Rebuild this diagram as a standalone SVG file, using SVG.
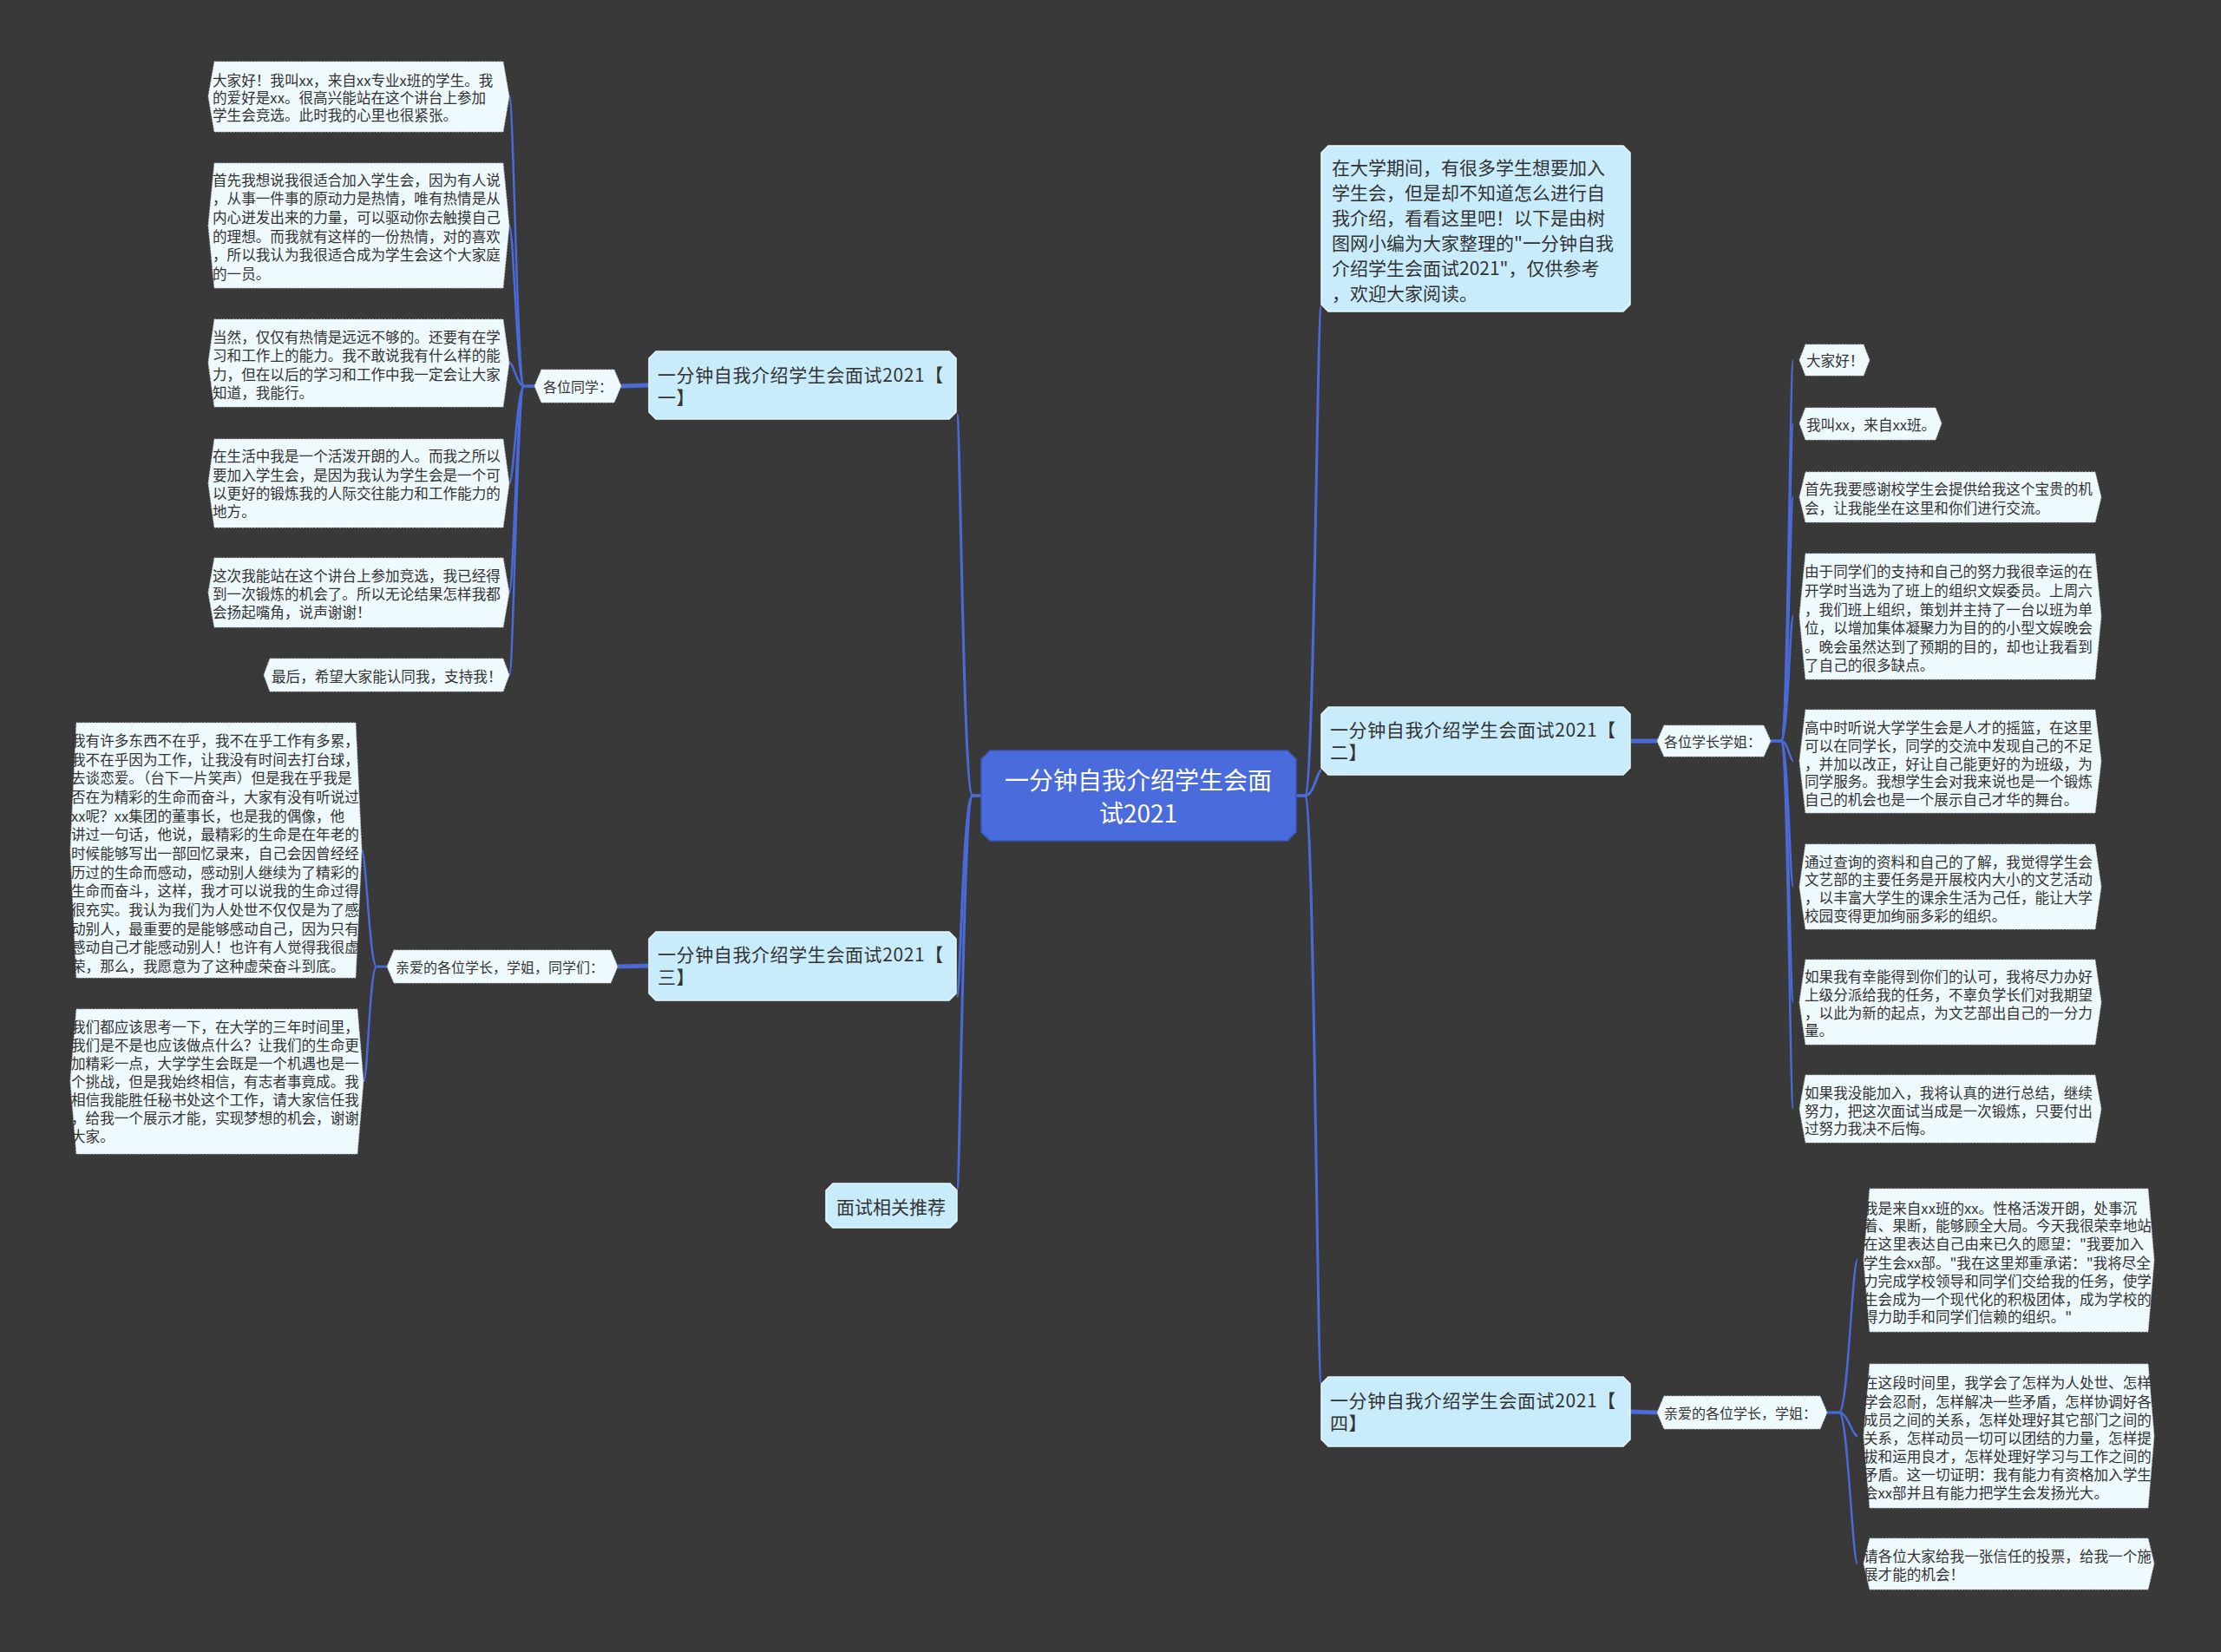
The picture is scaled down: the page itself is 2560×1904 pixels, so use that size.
<svg xmlns="http://www.w3.org/2000/svg" width="2560" height="1904" viewBox="0 0 2560 1904">
<style>
text{font-family:"Noto Sans CJK SC","Liberation Sans",sans-serif;dominant-baseline:central}
.bg{fill:#3a393a}
.leaf{fill:#effaff;stroke:#bfc6c9;stroke-width:1;stroke-dasharray:2 1.5}
.lt{font-size:16.6px;fill:#333}
.sub{fill:#effaff;stroke:#bfc6c9;stroke-width:1;stroke-dasharray:2 1.5}
.st{font-size:16px;fill:#333}
.br{fill:#c9ecfc;stroke:#e6f7ff;stroke-width:1.5}
.bt{font-size:21px;fill:#333;letter-spacing:0.6px}
.it{font-size:21px;fill:#333}
.ct{font-size:28px;fill:#fff;text-anchor:middle}
.root{fill:#4a6bdc;stroke:#3a57b8;stroke-width:1.5}
.c1{fill:none;stroke:#4a6ad8;stroke-width:3}
.c2{fill:none;stroke:#4a6ad8;stroke-width:5}
.c3{fill:none;stroke:#4a6ad8;stroke-width:2.5}
</style>
<rect class="bg" x="0" y="0" width="2560" height="1904"/>

<g id="connectors">
<path class="c1" d="M1131,917 L1121,917 C1110,917 1107,478 1103,478"/>
<path class="c1" d="M1131,917 L1121,917 C1110,917 1107,1148 1103,1148"/>
<path class="c1" d="M1131,917 L1121,917 C1110,917 1107,1370 1103,1370"/>
<path class="c1" d="M1494,917 L1504,917 C1515,917 1518,354 1523,354"/>
<path class="c1" d="M1494,917 L1504,917 C1515,917 1518,888 1523,888"/>
<path class="c1" d="M1494,917 L1504,917 C1515,917 1518,1594 1523,1594"/>
<path class="c2" d="M748,444 L716,445"/>
<path class="c2" d="M1879,854 L1910,854"/>
<path class="c2" d="M748,1113 L712,1114"/>
<path class="c2" d="M1879,1627 L1910,1628"/>
<path class="c3" d="M616,445 L604,445 C596,445 592,111 587,111"/>
<path class="c3" d="M616,445 L604,445 C596,445 592,260 587,260"/>
<path class="c3" d="M616,445 L604,445 C596,445 592,418 587,418"/>
<path class="c3" d="M616,445 L604,445 C596,445 592,557 587,557"/>
<path class="c3" d="M616,445 L604,445 C596,445 592,683 587,683"/>
<path class="c3" d="M616,445 L604,445 C596,445 592,778 587,778"/>
<path class="c3" d="M446,1114 L434,1114 C426,1114 422,980 417,980"/>
<path class="c3" d="M446,1114 L434,1114 C426,1114 424,1246 419,1246"/>
<path class="c3" d="M2041,854 L2053,854 C2061,854 2063,415 2067,415"/>
<path class="c3" d="M2041,854 L2053,854 C2061,854 2063,488 2067,488"/>
<path class="c3" d="M2041,854 L2053,854 C2061,854 2063,573 2067,573"/>
<path class="c3" d="M2041,854 L2053,854 C2061,854 2063,710 2067,710"/>
<path class="c3" d="M2041,854 L2053,854 C2061,854 2063,877 2067,877"/>
<path class="c3" d="M2041,854 L2053,854 C2061,854 2063,1022 2067,1022"/>
<path class="c3" d="M2041,854 L2053,854 C2061,854 2063,1155 2067,1155"/>
<path class="c3" d="M2041,854 L2053,854 C2061,854 2063,1278 2067,1278"/>
<path class="c3" d="M2106,1628 L2120,1628 C2130,1628 2135,1452 2141,1452"/>
<path class="c3" d="M2106,1628 L2120,1628 C2130,1628 2135,1655 2141,1655"/>
<path class="c3" d="M2106,1628 L2120,1628 C2130,1628 2135,1802 2141,1802"/>
</g>

<g id="root">
<polygon class="root" points="1141,865 1484,865 1494,875 1494,959 1484,969 1141,969 1131,959 1131,875"/>
<text class="ct" x="1312" y="898">一分钟自我介绍学生会面</text>
<text class="ct" x="1312" y="936">试2021</text>
</g>

<g id="intro">
<polygon class="br" points="1531,168 1871,168 1879,176 1879,351 1871,359 1531,359 1523,351 1523,176"/>
<text class="it" x="1535" y="192">在大学期间，有很多学生想要加入</text>
<text class="it" x="1535" y="221">学生会，但是却不知道怎么进行自</text>
<text class="it" x="1535" y="250">我介绍，看看这里吧！以下是由树</text>
<text class="it" x="1535" y="279">图网小编为大家整理的"一分钟自我</text>
<text class="it" x="1535" y="308">介绍学生会面试2021"，仅供参考</text>
<text class="it" x="1535" y="337">，欢迎大家阅读。</text>
</g>

<g id="branch1">
<polygon class="br" points="756,405 1094,405 1102,413 1102,475 1094,483 756,483 748,475 748,413"/>
<text class="bt" x="758" y="431">一分钟自我介绍学生会面试2021【</text>
<text class="bt" x="758" y="457">一】</text>
</g>
<g id="branch2">
<polygon class="br" points="1531,815 1871,815 1879,823 1879,885 1871,893 1531,893 1523,885 1523,823"/>
<text class="bt" x="1533" y="840">一分钟自我介绍学生会面试2021【</text>
<text class="bt" x="1533" y="866">二】</text>
</g>
<g id="branch3">
<polygon class="br" points="756,1074 1094,1074 1102,1082 1102,1145 1094,1153 756,1153 748,1145 748,1082"/>
<text class="bt" x="758" y="1099">一分钟自我介绍学生会面试2021【</text>
<text class="bt" x="758" y="1125">三】</text>
</g>
<g id="branch4">
<polygon class="br" points="1531,1587 1871,1587 1879,1595 1879,1659 1871,1667 1531,1667 1523,1659 1523,1595"/>
<text class="bt" x="1533" y="1613">一分钟自我介绍学生会面试2021【</text>
<text class="bt" x="1533" y="1639">四】</text>
</g>
<g id="related">
<polygon class="br" points="960,1364 1095,1364 1103,1372 1103,1407 1095,1415 960,1415 952,1407 952,1372"/>
<text class="it" style="text-anchor:middle" x="1027" y="1390">面试相关推荐</text>
</g>

<g id="sub1">
<polygon class="sub" points="624,426 708,426 716,445 708,464 624,464 616,445"/>
<text class="st" x="626" y="445">各位同学：</text>
</g>
<g id="sub2">
<polygon class="sub" points="1918,836 2033,836 2041,854 2033,872 1918,872 1910,854"/>
<text class="st" x="1918" y="854">各位学长学姐：</text>
</g>
<g id="sub3">
<polygon class="sub" points="454,1095 704,1095 712,1114 704,1133 454,1133 446,1114"/>
<text class="st" x="456" y="1114">亲爱的各位学长，学姐，同学们：</text>
</g>
<g id="sub4">
<polygon class="sub" points="1918,1609 2098,1609 2106,1628 2098,1647 1918,1647 1910,1628"/>
<text class="st" x="1918" y="1628">亲爱的各位学长，学姐：</text>
</g>

<g id="leaf1-1">
<polygon class="leaf" points="247,71 580,71 587,111 580,152 247,152 240,111"/>
<text class="lt" x="245" y="92">大家好！我叫xx，来自xx专业x班的学生。我</text>
<text class="lt" x="245" y="112">的爱好是xx。很高兴能站在这个讲台上参加</text>
<text class="lt" x="245" y="132">学生会竞选。此时我的心里也很紧张。</text>
</g>
<g id="leaf1-2">
<polygon class="leaf" points="247,188 580,188 587,260 580,332 247,332 240,260"/>
<text class="lt" x="245" y="207">首先我想说我很适合加入学生会，因为有人说</text>
<text class="lt" x="245" y="228">，从事一件事的原动力是热情，唯有热情是从</text>
<text class="lt" x="245" y="250">内心迸发出来的力量，可以驱动你去触摸自己</text>
<text class="lt" x="245" y="272">的理想。而我就有这样的一份热情，对的喜欢</text>
<text class="lt" x="245" y="293">，所以我认为我很适合成为学生会这个大家庭</text>
<text class="lt" x="245" y="315">的一员。</text>
</g>
<g id="leaf1-3">
<polygon class="leaf" points="247,368 580,368 587,418 580,469 247,469 240,418"/>
<text class="lt" x="245" y="388">当然，仅仅有热情是远远不够的。还要有在学</text>
<text class="lt" x="245" y="409">习和工作上的能力。我不敢说我有什么样的能</text>
<text class="lt" x="245" y="431">力，但在以后的学习和工作中我一定会让大家</text>
<text class="lt" x="245" y="452">知道，我能行。</text>
</g>
<g id="leaf1-4">
<polygon class="leaf" points="247,506 580,506 587,557 580,608 247,608 240,557"/>
<text class="lt" x="245" y="525">在生活中我是一个活泼开朗的人。而我之所以</text>
<text class="lt" x="245" y="547">要加入学生会，是因为我认为学生会是一个可</text>
<text class="lt" x="245" y="568">以更好的锻炼我的人际交往能力和工作能力的</text>
<text class="lt" x="245" y="589">地方。</text>
</g>
<g id="leaf1-5">
<polygon class="leaf" points="247,643 580,643 587,683 580,723 247,723 240,683"/>
<text class="lt" x="245" y="663">这次我能站在这个讲台上参加竞选，我已经得</text>
<text class="lt" x="245" y="684">到一次锻炼的机会了。所以无论结果怎样我都</text>
<text class="lt" x="245" y="705">会扬起嘴角，说声谢谢！</text>
</g>
<g id="leaf1-6">
<polygon class="leaf" points="311,759 580,759 587,778 580,797 311,797 304,778"/>
<text class="lt" x="313" y="779">最后，希望大家能认同我，支持我！</text>
</g>

<g id="leaf3-1">
<polygon class="leaf" points="88,833 410,833 417,980 410,1127 88,1127 81,980"/>
<text class="lt" x="82" y="853">我有许多东西不在乎，我不在乎工作有多累，</text>
<text class="lt" x="82" y="875">我不在乎因为工作，让我没有时间去打台球，</text>
<text class="lt" x="82" y="896">去谈恋爱。（台下一片笑声）但是我在乎我是</text>
<text class="lt" x="82" y="918">否在为精彩的生命而奋斗，大家有没有听说过</text>
<text class="lt" x="82" y="940">xx呢？xx集团的董事长，也是我的偶像，他</text>
<text class="lt" x="82" y="961">讲过一句话，他说，最精彩的生命是在年老的</text>
<text class="lt" x="82" y="983">时候能够写出一部回忆录来，自己会因曾经经</text>
<text class="lt" x="82" y="1005">历过的生命而感动，感动别人继续为了精彩的</text>
<text class="lt" x="82" y="1026">生命而奋斗，这样，我才可以说我的生命过得</text>
<text class="lt" x="82" y="1048">很充实。我认为我们为人处世不仅仅是为了感</text>
<text class="lt" x="82" y="1070">动别人，最重要的是能够感动自己，因为只有</text>
<text class="lt" x="82" y="1091">感动自己才能感动别人！也许有人觉得我很虚</text>
<text class="lt" x="82" y="1113">荣，那么，我愿意为了这种虚荣奋斗到底。</text>
</g>
<g id="leaf3-2">
<polygon class="leaf" points="88,1163 412,1163 419,1246 412,1330 88,1330 81,1246"/>
<text class="lt" x="82" y="1183">我们都应该思考一下，在大学的三年时间里，</text>
<text class="lt" x="82" y="1204">我们是不是也应该做点什么？让我们的生命更</text>
<text class="lt" x="82" y="1225">加精彩一点，大学学生会既是一个机遇也是一</text>
<text class="lt" x="82" y="1246">个挑战，但是我始终相信，有志者事竟成。我</text>
<text class="lt" x="82" y="1267">相信我能胜任秘书处这个工作，请大家信任我</text>
<text class="lt" x="82" y="1288">，给我一个展示才能，实现梦想的机会，谢谢</text>
<text class="lt" x="82" y="1309">大家。</text>
</g>

<g id="leaf2-1">
<polygon class="leaf" points="2081,397 2148,397 2155,415 2148,433 2081,433 2074,415"/>
<text class="lt" x="2082" y="415">大家好！</text>
</g>
<g id="leaf2-2">
<polygon class="leaf" points="2081,470 2231,470 2238,488 2231,507 2081,507 2074,488"/>
<text class="lt" x="2082" y="489">我叫xx，来自xx班。</text>
</g>
<g id="leaf2-3">
<polygon class="leaf" points="2081,544 2415,544 2422,573 2415,602 2081,602 2074,573"/>
<text class="lt" x="2080" y="563">首先我要感谢校学生会提供给我这个宝贵的机</text>
<text class="lt" x="2080" y="585">会，让我能坐在这里和你们进行交流。</text>
</g>
<g id="leaf2-4">
<polygon class="leaf" points="2081,638 2415,638 2422,710 2415,783 2081,783 2074,710"/>
<text class="lt" x="2080" y="658">由于同学们的支持和自己的努力我很幸运的在</text>
<text class="lt" x="2080" y="680">开学时当选为了班上的组织文娱委员。上周六</text>
<text class="lt" x="2080" y="702">，我们班上组织，策划并主持了一台以班为单</text>
<text class="lt" x="2080" y="723">位，以增加集体凝聚力为目的的小型文娱晚会</text>
<text class="lt" x="2080" y="745">。晚会虽然达到了预期的目的，却也让我看到</text>
<text class="lt" x="2080" y="766">了自己的很多缺点。</text>
</g>
<g id="leaf2-5">
<polygon class="leaf" points="2081,818 2415,818 2422,877 2415,937 2081,937 2074,877"/>
<text class="lt" x="2080" y="838">高中时听说大学学生会是人才的摇篮，在这里</text>
<text class="lt" x="2080" y="859">可以在同学长，同学的交流中发现自己的不足</text>
<text class="lt" x="2080" y="880">，并加以改正，好让自己能更好的为班级，为</text>
<text class="lt" x="2080" y="900">同学服务。我想学生会对我来说也是一个锻炼</text>
<text class="lt" x="2080" y="921">自己的机会也是一个展示自己才华的舞台。</text>
</g>
<g id="leaf2-6">
<polygon class="leaf" points="2081,973 2415,973 2422,1022 2415,1071 2081,1071 2074,1022"/>
<text class="lt" x="2080" y="993">通过查询的资料和自己的了解，我觉得学生会</text>
<text class="lt" x="2080" y="1013">文艺部的主要任务是开展校内大小的文艺活动</text>
<text class="lt" x="2080" y="1034">，以丰富大学生的课余生活为己任，能让大学</text>
<text class="lt" x="2080" y="1055">校园变得更加绚丽多彩的组织。</text>
</g>
<g id="leaf2-7">
<polygon class="leaf" points="2081,1106 2415,1106 2422,1155 2415,1204 2081,1204 2074,1155"/>
<text class="lt" x="2080" y="1125">如果我有幸能得到你们的认可，我将尽力办好</text>
<text class="lt" x="2080" y="1146">上级分派给我的任务，不辜负学长们对我期望</text>
<text class="lt" x="2080" y="1167">，以此为新的起点，为文艺部出自己的一分力</text>
<text class="lt" x="2080" y="1187">量。</text>
</g>
<g id="leaf2-8">
<polygon class="leaf" points="2081,1239 2415,1239 2422,1278 2415,1317 2081,1317 2074,1278"/>
<text class="lt" x="2080" y="1259">如果我没能加入，我将认真的进行总结，继续</text>
<text class="lt" x="2080" y="1280">努力，把这次面试当成是一次锻炼，只要付出</text>
<text class="lt" x="2080" y="1300">过努力我决不后悔。</text>
</g>

<g id="leaf4-1">
<polygon class="leaf" points="2155,1370 2476,1370 2483,1452 2476,1535 2155,1535 2148,1452"/>
<text class="lt" x="2148" y="1392">我是来自xx班的xx。性格活泼开朗，处事沉</text>
<text class="lt" x="2148" y="1412">着、果断，能够顾全大局。今天我很荣幸地站</text>
<text class="lt" x="2148" y="1433">在这里表达自己由来已久的愿望："我要加入</text>
<text class="lt" x="2148" y="1455">学生会xx部。"我在这里郑重承诺："我将尽全</text>
<text class="lt" x="2148" y="1476">力完成学校领导和同学们交给我的任务，使学</text>
<text class="lt" x="2148" y="1497">生会成为一个现代化的积极团体，成为学校的</text>
<text class="lt" x="2148" y="1517">得力助手和同学们信赖的组织。"</text>
</g>
<g id="leaf4-2">
<polygon class="leaf" points="2155,1572 2476,1572 2483,1655 2476,1738 2155,1738 2148,1655"/>
<text class="lt" x="2148" y="1593">在这段时间里，我学会了怎样为人处世、怎样</text>
<text class="lt" x="2148" y="1615">学会忍耐，怎样解决一些矛盾，怎样协调好各</text>
<text class="lt" x="2148" y="1636">成员之间的关系，怎样处理好其它部门之间的</text>
<text class="lt" x="2148" y="1657">关系，怎样动员一切可以团结的力量，怎样提</text>
<text class="lt" x="2148" y="1678">拔和运用良才，怎样处理好学习与工作之间的</text>
<text class="lt" x="2148" y="1699">矛盾。这一切证明：我有能力有资格加入学生</text>
<text class="lt" x="2148" y="1720">会xx部并且有能力把学生会发扬光大。</text>
</g>
<g id="leaf4-3">
<polygon class="leaf" points="2155,1773 2476,1773 2483,1802 2476,1832 2155,1832 2148,1802"/>
<text class="lt" x="2148" y="1793">请各位大家给我一张信任的投票，给我一个施</text>
<text class="lt" x="2148" y="1814">展才能的机会！</text>
</g>
</svg>
